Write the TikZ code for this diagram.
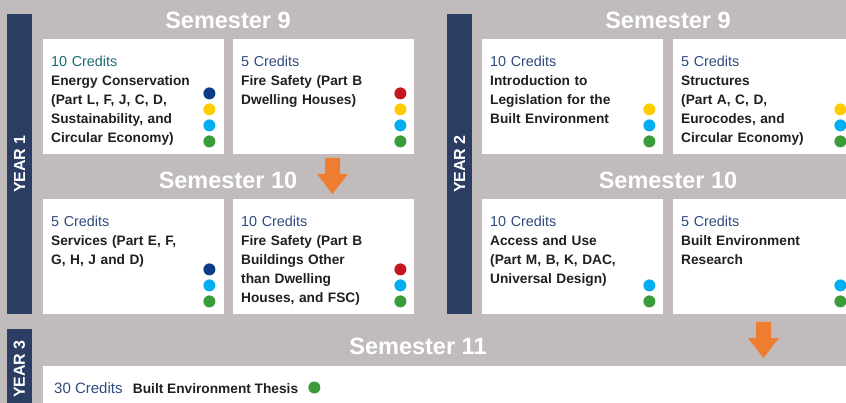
\documentclass[tikz,border=0pt]{standalone}
\usepackage{fontspec}
\setmainfont{Liberation Sans}
\usetikzlibrary{positioning}

\definecolor{bggrey}{HTML}{C1BCBB}
\definecolor{navybar}{HTML}{2C3D63}
\definecolor{credteal}{HTML}{1E6B76}
\definecolor{credblue}{HTML}{2F4B7C}
\definecolor{ink}{HTML}{231F20}
\definecolor{arroworange}{HTML}{EE7D31}
\definecolor{dnavy}{HTML}{0B3C8C}
\definecolor{dred}{HTML}{C4161C}
\definecolor{dyellow}{HTML}{FFCC00}
\definecolor{dcyan}{HTML}{00AEEF}
\definecolor{dgreen}{HTML}{3A9B3A}

\newcommand{\cred}[2][credblue]{{\color{#1}\mdseries\fontsize{14.4}{19}\selectfont #2}}

\begin{document}
\begin{tikzpicture}[x=1pt, y=-1pt, node distance=16pt, on grid,
modbox/.style ={rectangle, fill=white, anchor=north west, inner sep=0pt,
  minimum width=181pt, minimum height=115pt},
linetext/.style ={anchor=base west, inner sep=0pt, text=ink,
  font=\fontsize{13.7}{19}\selectfont\bfseries},
modtext/.style ={linetext, align=left, text width=165pt},
semtitle/.style ={anchor=base, inner sep=0pt, text=white,
  font=\fontsize{23.5}{24}\selectfont\bfseries},
yearbar/.style ={rectangle, fill=navybar, rotate=90, inner sep=0pt,
  minimum height=25pt, text=white, font=\fontsize{16}{16}\selectfont\bfseries},
mdot/.style ={circle, fill=#1, minimum size=12pt, inner sep=0pt},
downarrow/.style ={fill=arroworange}
]
\useasboundingbox (0,0) rectangle (846,403);
\fill[bggrey] (0,0) rectangle (846,403);

% year bars
\node[yearbar, minimum width=300pt] (year1) at (19.5,164) {YEAR 1};
\node[yearbar, minimum width=300pt] (year2) at (459.5,164) {YEAR 2};
\node[yearbar, minimum width=80pt] (year3) at (19.5,369) {YEAR 3};

% semester titles
\node[semtitle] (sem9a) at (228,28.5) {Semester 9};
\node[semtitle] (sem10a) at (228,188.5) {Semester 10};
\node[semtitle] (sem9b) at (668,28.5) {Semester 9};
\node[semtitle] (sem10b) at (668,188.5) {Semester 10};
\node[semtitle] (sem11) at (418,354) {Semester 11};

% year 1 modules
\node[modbox] (energy) at (43,39) {};
\node[modtext] (energyt) at ([shift={(8,27.5)}]energy.north west)
  {\cred[credteal]{10 Credits}\\ Energy Conservation\\ (Part L, F, J, C, D,\\
   Sustainability, and\\ Circular Economy)};
\node[mdot=dgreen] (energyd4) at ([shift={(-15,-13)}]energy.south east) {};
\node[mdot=dcyan] (energyd3) [above=of energyd4] {};
\node[mdot=dyellow] (energyd2) [above=of energyd3] {};
\node[mdot=dnavy] (energyd1) [above=of energyd2] {};

\node[modbox] (firedw) at (233,39) {};
\node[modtext] (firedwt) at ([shift={(8,27.5)}]firedw.north west)
  {\cred{5 Credits}\\ Fire Safety (Part B\\ Dwelling Houses)};
\node[mdot=dgreen] (firedwd4) at ([shift={(-14,-13)}]firedw.south east) {};
\node[mdot=dcyan] (firedwd3) [above=of firedwd4] {};
\node[mdot=dyellow] (firedwd2) [above=of firedwd3] {};
\node[mdot=dred] (firedwd1) [above=of firedwd2] {};

\node[modbox] (services) at (43,199) {};
\node[modtext] (servicest) at ([shift={(8,27.5)}]services.north west)
  {\cred{5 Credits}\\ Services (Part E, F,\\ G, H, J and D)};
\node[mdot=dgreen] (servicesd3) at ([shift={(-15,-13)}]services.south east) {};
\node[mdot=dcyan] (servicesd2) [above=of servicesd3] {};
\node[mdot=dnavy] (servicesd1) [above=of servicesd2] {};

\node[modbox] (fireot) at (233,199) {};
\node[modtext] (fireott) at ([shift={(8,27.5)}]fireot.north west)
  {\cred{10 Credits}\\ Fire Safety (Part B\\ Buildings Other\\ than Dwelling\\ Houses, and FSC)};
\node[mdot=dgreen] (fireotd3) at ([shift={(-14,-13)}]fireot.south east) {};
\node[mdot=dcyan] (fireotd2) [above=of fireotd3] {};
\node[mdot=dred] (fireotd1) [above=of fireotd2] {};

% year 2 modules
\node[modbox] (legis) at (482,39) {};
\node[modtext] (legist) at ([shift={(8,27.5)}]legis.north west)
  {\cred{10 Credits}\\ Introduction to\\ Legislation for the\\ Built Environment};
\node[mdot=dgreen] (legisd3) at ([shift={(-14,-13)}]legis.south east) {};
\node[mdot=dcyan] (legisd2) [above=of legisd3] {};
\node[mdot=dyellow] (legisd1) [above=of legisd2] {};

\node[modbox] (struct) at (673,39) {};
\node[modtext] (structt) at ([shift={(8,27.5)}]struct.north west)
  {\cred{5 Credits}\\ Structures\\ (Part A, C, D,\\ Eurocodes, and\\ Circular Economy)};
\node[mdot=dgreen] (structd3) at ([shift={(-14,-13)}]struct.south east) {};
\node[mdot=dcyan] (structd2) [above=of structd3] {};
\node[mdot=dyellow] (structd1) [above=of structd2] {};

\node[modbox] (access) at (482,199) {};
\node[modtext] (accesst) at ([shift={(8,27.5)}]access.north west)
  {\cred{10 Credits}\\ Access and Use\\ (Part M, B, K, DAC,\\ Universal Design)};
\node[mdot=dgreen] (accessd2) at ([shift={(-14,-13)}]access.south east) {};
\node[mdot=dcyan] (accessd1) [above=of accessd2] {};

\node[modbox] (research) at (673,199) {};
\node[modtext] (researcht) at ([shift={(8,27.5)}]research.north west)
  {\cred{5 Credits}\\ Built Environment\\ Research};
\node[mdot=dgreen] (researchd2) at ([shift={(-14,-13)}]research.south east) {};
\node[mdot=dcyan] (researchd1) [above=of researchd2] {};

% year 3
\node[modbox, minimum width=810pt, minimum height=45pt] (thesis) at (43,366) {};
\node[linetext] (thesiscr) at ([shift={(11,27.5)}]thesis.north west)
  {\cred[credblue]{\fontsize{15}{19}\selectfont 30 Credits}};
\node[linetext] (thesist) at ([shift={(10,0)}]thesiscr.base east)
  {Built Environment Thesis};
\node[mdot=dgreen] (thesisd) at ([shift={(16,-6)}]thesist.base east) {};

% arrows
\coordinate (arrowa) at (332.5,158);
\coordinate (arrowb) at (763.5,322);
\foreach \a in {arrowa, arrowb}
  \fill[downarrow] (\a) ++(-7.5,0) -- ++(15,0) -- ++(0,16) -- ++(8,0)
    -- ++(-15.5,20) -- ++(-15.5,-20) -- ++(8,0) -- cycle;
\end{tikzpicture}
\end{document}
